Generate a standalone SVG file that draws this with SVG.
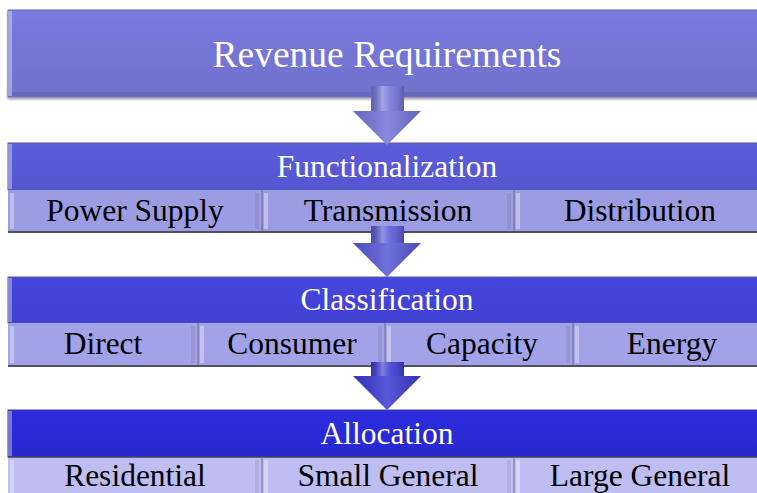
<svg xmlns="http://www.w3.org/2000/svg" width="757" height="493" viewBox="0 0 757 493">
  <defs>
    <linearGradient id="gTop" x1="0" y1="0" x2="0" y2="1">
      <stop offset="0" stop-color="#7a7ae0"/>
      <stop offset="1" stop-color="#7070cc"/>
    </linearGradient>
    <linearGradient id="gH1" x1="0" y1="0" x2="0" y2="1">
      <stop offset="0" stop-color="#5c5cdc"/>
      <stop offset="1" stop-color="#5656d2"/>
    </linearGradient>
    <linearGradient id="gH2" x1="0" y1="0" x2="0" y2="1">
      <stop offset="0" stop-color="#4646de"/>
      <stop offset="1" stop-color="#4040d4"/>
    </linearGradient>
    <linearGradient id="gH3" x1="0" y1="0" x2="0" y2="1">
      <stop offset="0" stop-color="#2c2cde"/>
      <stop offset="1" stop-color="#2828d0"/>
    </linearGradient>
    <linearGradient id="gShaft" x1="0" y1="0" x2="1" y2="0">
      <stop offset="0" stop-color="#000" stop-opacity="0.15"/>
      <stop offset="0.35" stop-color="#fff" stop-opacity="0.35"/>
      <stop offset="0.6" stop-color="#fff" stop-opacity="0.1"/>
      <stop offset="1" stop-color="#000" stop-opacity="0.2"/>
    </linearGradient>
    <linearGradient id="gHead" x1="0" y1="0" x2="1" y2="0">
      <stop offset="0" stop-color="#000" stop-opacity="0.1"/>
      <stop offset="0.5" stop-color="#fff" stop-opacity="0.15"/>
      <stop offset="1" stop-color="#000" stop-opacity="0.15"/>
    </linearGradient>
    <filter id="shadow" x="-5%" y="-20%" width="110%" height="150%">
      <feDropShadow dx="0" dy="2" stdDeviation="1.2" flood-color="#000" flood-opacity="0.35"/>
    </filter>
  </defs>
  <style>
    .title { font-family: "Liberation Serif", "Times New Roman", serif; fill: #ffffff; text-anchor: middle; }
    .cell { font-family: "Liberation Serif", "Times New Roman", serif; fill: #000000; text-anchor: middle; font-size: 31.5px; }
    .hl { fill: #ffffff; opacity: 0.35; }
    .dk { fill: #000000; opacity: 0.07; }
    .sep { stroke: #6a6a8a; stroke-width: 1; }
    .base { stroke: #505060; stroke-width: 2; }
    .row1 { fill: #9c9ce2; }
    .row2 { fill: #a2a2e8; }
    .row3 { fill: #bebef2; }
  </style>

  <!-- Revenue Requirements -->
  <g id="revenue">
    <rect x="8" y="10" width="760" height="87" fill="url(#gTop)" stroke="#6a6ac0" stroke-width="1" filter="url(#shadow)"/>
    <rect x="8" y="11" width="4" height="85" class="hl"/>
    <rect x="12" y="92" width="750" height="4" class="dk"/>
    <text x="387" y="67" class="title" font-size="37.5">Revenue Requirements</text>
  </g>

  <!-- Functionalization -->
  <g id="functionalization">
    <rect x="8" y="143" width="760" height="47" fill="url(#gH1)" stroke="#5a5a9a" stroke-width="1"/>
    <rect x="8" y="144" width="4" height="45" class="hl"/>
    <text x="387" y="177" class="title" font-size="31.5">Functionalization</text>
  </g>
  <g id="power-supply">
    <rect x="8" y="190" width="254" height="42" class="row1"/>
    <rect x="10" y="193" width="4" height="36" class="hl"/>
    <rect x="255" y="193" width="4" height="36" class="dk"/>
    <text x="135" y="221" class="cell">Power Supply</text>
  </g>
  <g id="transmission">
    <rect x="262" y="190" width="252" height="42" class="row1"/>
    <rect x="264" y="193" width="4" height="36" class="hl"/>
    <rect x="507" y="193" width="4" height="36" class="dk"/>
    <text x="388" y="221" class="cell">Transmission</text>
  </g>
  <g id="distribution">
    <rect x="514" y="190" width="250" height="42" class="row1"/>
    <rect x="516" y="193" width="4" height="36" class="hl"/>
    <text x="640" y="221" class="cell">Distribution</text>
  </g>
  <g id="functionalization-lines">
    <line x1="262" y1="190" x2="262" y2="232" class="sep"/>
    <line x1="514" y1="190" x2="514" y2="232" class="sep"/>
    <line x1="8" y1="232" x2="757" y2="232" class="base"/>
  </g>

  <!-- Classification -->
  <g id="classification">
    <rect x="8" y="277" width="760" height="46" fill="url(#gH2)" stroke="#5a5a9a" stroke-width="1"/>
    <rect x="8" y="278" width="4" height="44" class="hl"/>
    <text x="387" y="310" class="title" font-size="31.5">Classification</text>
  </g>
  <g id="direct">
    <rect x="8" y="323" width="190" height="43" class="row2"/>
    <rect x="10" y="326" width="4" height="37" class="hl"/>
    <rect x="191" y="326" width="4" height="37" class="dk"/>
    <text x="103" y="354" class="cell">Direct</text>
  </g>
  <g id="consumer">
    <rect x="198" y="323" width="187" height="43" class="row2"/>
    <rect x="200" y="326" width="4" height="37" class="hl"/>
    <rect x="378" y="326" width="4" height="37" class="dk"/>
    <text x="292" y="354" class="cell">Consumer</text>
  </g>
  <g id="capacity">
    <rect x="385" y="323" width="188" height="43" class="row2"/>
    <rect x="387" y="326" width="4" height="37" class="hl"/>
    <rect x="566" y="326" width="4" height="37" class="dk"/>
    <text x="482" y="354" class="cell">Capacity</text>
  </g>
  <g id="energy">
    <rect x="573" y="323" width="190" height="43" class="row2"/>
    <rect x="575" y="326" width="4" height="37" class="hl"/>
    <text x="672" y="354" class="cell">Energy</text>
  </g>
  <g id="classification-lines">
    <line x1="198" y1="323" x2="198" y2="366" class="sep"/>
    <line x1="385" y1="323" x2="385" y2="366" class="sep"/>
    <line x1="573" y1="323" x2="573" y2="366" class="sep"/>
    <line x1="8" y1="366" x2="757" y2="366" class="base"/>
  </g>

  <!-- Allocation -->
  <g id="allocation">
    <rect x="8" y="410" width="760" height="47" fill="url(#gH3)" stroke="#3a3a8a" stroke-width="1"/>
    <rect x="8" y="411" width="4" height="45" class="hl"/>
    <text x="387" y="444" class="title" font-size="31.5">Allocation</text>
  </g>
  <g id="residential">
    <rect x="8" y="457" width="254" height="40" class="row3"/>
    <rect x="10" y="460" width="4" height="36" class="hl"/>
    <rect x="255" y="460" width="4" height="36" class="dk"/>
    <text x="135" y="486" class="cell">Residential</text>
  </g>
  <g id="small-general">
    <rect x="262" y="457" width="252" height="40" class="row3"/>
    <rect x="264" y="460" width="4" height="36" class="hl"/>
    <rect x="507" y="460" width="4" height="36" class="dk"/>
    <text x="388" y="486" class="cell">Small General</text>
  </g>
  <g id="large-general">
    <rect x="514" y="457" width="250" height="40" class="row3"/>
    <rect x="516" y="460" width="4" height="36" class="hl"/>
    <text x="640" y="486" class="cell">Large General</text>
  </g>
  <g id="allocation-lines">
    <line x1="8" y1="457" x2="757" y2="457" stroke="#404060" stroke-width="1.5"/>
    <line x1="262" y1="457" x2="262" y2="493" class="sep"/>
    <line x1="514" y1="457" x2="514" y2="493" class="sep"/>
  </g>

  <!-- Down arrows between stages -->
  <g id="connectors">
    <g>
      <path d="M371,86 H404 V111 H421 L387,145 L353,111 H371 Z" fill="#7474d8"/>
      <rect x="371" y="86" width="33" height="25" fill="url(#gShaft)"/>
      <path d="M353,111 H421 L387,145 Z" fill="url(#gHead)"/>
    </g>
    <g>
      <path d="M371,226 H404 V243 H421 L387,277 L353,243 H371 Z" fill="#5858d6"/>
      <rect x="371" y="226" width="33" height="17" fill="url(#gShaft)"/>
      <path d="M353,243 H421 L387,277 Z" fill="url(#gHead)"/>
    </g>
    <g>
      <path d="M371,362 H404 V376 H421 L387,410 L353,376 H371 Z" fill="#3a3ad2"/>
      <rect x="371" y="362" width="33" height="14" fill="url(#gShaft)"/>
      <path d="M353,376 H421 L387,410 Z" fill="url(#gHead)"/>
    </g>
  </g>
</svg>
